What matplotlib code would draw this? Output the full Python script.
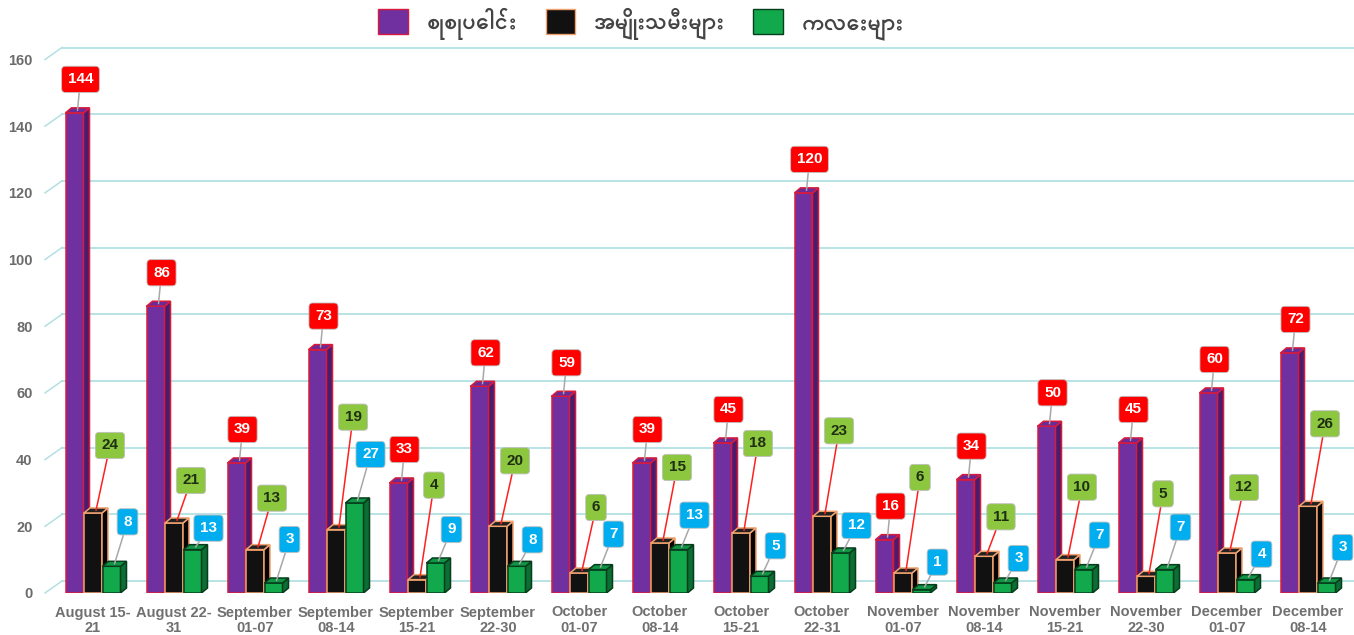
import matplotlib
matplotlib.use("Agg")
import matplotlib.pyplot as plt
import numpy as np
from matplotlib.patches import Rectangle, Polygon, Patch

plt.rcParams['font.family'] = ['Liberation Sans', 'Padauk', 'DejaVu Sans']

# data
periods = ["August 15-\n21", "August 22-\n31", "September\n01-07", "September\n08-14",
           "September\n15-21", "September\n22-30", "October\n01-07", "October\n08-14",
           "October\n15-21", "October\n22-31", "November\n01-07", "November\n08-14",
           "November\n15-21", "November\n22-30", "December\n01-07", "December\n08-14"]
total = [144, 86, 39, 73, 33, 62, 59, 39, 45, 120, 16, 34, 50, 45, 60, 72]
women = [24, 21, 13, 19, 4, 20, 6, 15, 18, 23, 6, 11, 10, 5, 12, 26]
children = [8, 13, 3, 27, 9, 8, 7, 13, 5, 12, 1, 3, 7, 7, 4, 3]
series_names = ["စုစုပေါင်း", "အမျိုးသမီးများ", "ကလေးများ"]
yticks = [0, 20, 40, 60, 80, 100, 120, 140, 160]

# label offsets (pixels above bar top)
women_dy = [65, 40, 49, 110, 92, 63, 63, 73, 87, 83, 93, 37, 70, 80, 63, 80]
child_dy = [42, 19, 41, 46, 31, 24, 33, 32, 28, 25, 25, 22, 32, 40, 23, 33]

W, H = 1354, 635
fig = plt.figure(figsize=(W / 100, H / 100), dpi=100)
ax = fig.add_axes([45 / W, 42 / H, (W - 45) / W, 533.5 / H])

px_x = 81.0            # pixels per category
px_y = 533.5 / 160.0   # pixels per unit
x0 = -48 / px_x
ax.set_xlim(x0, x0 + (W - 45) / px_x)
ax.set_ylim(0, 160)
for s in ax.spines.values():
    s.set_visible(False)

# 3d back-plane grid
gdx, gdy = 17 / px_x, 12 / px_y
grid_c = "#b3e0e4"
for v in yticks:
    ax.plot([x0, x0 + gdx], [v, v + gdy], color=grid_c, lw=1.1, clip_on=False, zorder=0)
    ax.plot([x0 + gdx, ax.get_xlim()[1]], [v + gdy, v + gdy], color=grid_c, lw=1.3,
            clip_on=False, zorder=0)

ax.set_yticks(yticks)
ax.set_yticklabels([str(v) for v in yticks], fontsize=10.5, fontweight="bold", color="#6b6b6b")
x = np.arange(len(periods))
ax.set_xticks(x)
ax.set_xticklabels(periods, fontsize=10.5, fontweight="bold", color="#707070", linespacing=1.15)
ax.tick_params(length=0)
ax.tick_params(axis="y", pad=9)
ax.tick_params(axis="x", pad=9)

bw = 18 / px_x
bdx, bdy = 6 / px_x, 5 / px_y


def bar3d(xc, h, face, side, top, edge):
    l, r = xc - bw / 2, xc + bw / 2
    ax.add_patch(Rectangle((l, 0), bw, h, facecolor=face, edgecolor=edge, lw=1.1, zorder=2))
    ax.add_patch(Polygon([(r, 0), (r + bdx, bdy), (r + bdx, h + bdy), (r, h)],
                         facecolor=side, edgecolor=edge, lw=1.1, zorder=2))
    ax.add_patch(Polygon([(l, h), (r, h), (r + bdx, h + bdy), (l + bdx, h + bdy)],
                         facecolor=top, edgecolor=edge, lw=1.1, zorder=2))


off = 18.5 / px_x
for i in x:
    bar3d(i - off, total[i], "#7030a0", "#4a1c6e", "#6a2a98", "#d81b3c")
    bar3d(i, women[i], "#111111", "#050505", "#222222", "#f2a26e")
    bar3d(i + off, children[i], "#12a84c", "#0b6e33", "#0f9544", "#073d1c")


def tag(xc, h, dxp, dyp, txt, fc, tc, lc):
    ax.annotate(txt, xy=(xc + bdx / 2, h + bdy / 2), xytext=(dxp, dyp),
                textcoords="offset pixels", ha="center", va="center",
                fontsize=11, fontweight="bold", color=tc, zorder=5,
                bbox=dict(boxstyle="round,pad=0.4,rounding_size=0.25", fc=fc,
                          ec="#c0c0c0", lw=0.6),
                arrowprops=dict(arrowstyle="-", color=lc, lw=1.1, shrinkA=0, shrinkB=0))


for i in x:
    tag(i - off, total[i], 3, 31, str(total[i]), "#ff0000", "white", "#a8a8a8")
    tag(i, women[i], 14, women_dy[i], str(women[i]), "#8dc63f", "#1f2f14", "#ff2020")
    tag(i + off, children[i], 13, child_dy[i], str(children[i]), "#00aeef", "white", "#a8a8a8")

handles = [Patch(facecolor="#7030a0", edgecolor="#d81b3c"),
           Patch(facecolor="#111111", edgecolor="#f2a26e"),
           Patch(facecolor="#12a84c", edgecolor="#073d1c")]
fig.legend(handles, series_names, loc="center", bbox_to_anchor=(641 / W, 1 - 24 / H),
           ncol=3, frameon=False, handlelength=1.25, handleheight=1.25,
           columnspacing=1.2, handletextpad=0.8, labelcolor="#444444",
           prop=dict(family=["Padauk", "DejaVu Sans"], size=17, weight="bold"))

fig.savefig("out.png", dpi=100)
